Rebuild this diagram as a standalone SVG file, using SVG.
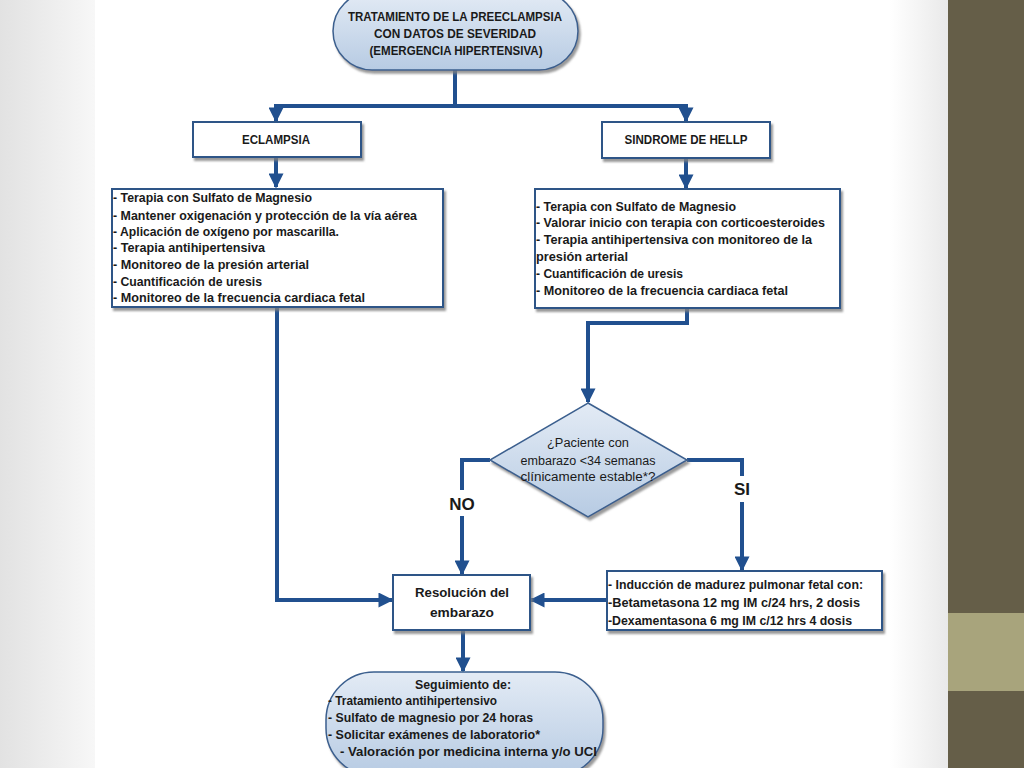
<svg xmlns="http://www.w3.org/2000/svg" width="1024" height="768" viewBox="0 0 1024 768">
<defs>
<linearGradient id="pill" x1="0" y1="0" x2="0" y2="1"><stop offset="0" stop-color="#e3ebf5"/><stop offset="1" stop-color="#b7cbe3"/></linearGradient>
<linearGradient id="lm" x1="0" y1="0" x2="1" y2="0"><stop offset="0" stop-color="#e2e2e2"/><stop offset="1" stop-color="#f7f7f7"/></linearGradient>
<linearGradient id="rm" x1="0" y1="0" x2="1" y2="0"><stop offset="0" stop-color="#ffffff"/><stop offset="1" stop-color="#e9e9e9"/></linearGradient>
<filter id="sh" x="-10%" y="-10%" width="130%" height="140%"><feDropShadow dx="2" dy="3" stdDeviation="1" flood-color="#808080" flood-opacity="0.8"/></filter>
<marker id="ah" viewBox="0 0 10 10" refX="9" refY="5" markerWidth="16" markerHeight="15" markerUnits="userSpaceOnUse" orient="auto"><path d="M0,0 L10,5 L0,10 z" fill="#21508f"/></marker>
</defs>
<style>
.box{fill:#ffffff;stroke:#2f5587;stroke-width:2;filter:url(#sh)}
.pil{fill:url(#pill);stroke:#3b5f8e;stroke-width:1.5;filter:url(#sh)}
.t{font-family:"Liberation Sans",Arial,sans-serif;font-weight:bold;font-size:12.5px;fill:#1a1a1a}
.c{text-anchor:middle}
.nw{font-weight:normal}
.lbl{font-family:"Liberation Sans",Arial,sans-serif;font-weight:bold;font-size:17px;fill:#1a1a1a;text-anchor:middle}
.ln{fill:none;stroke:#21508f;stroke-width:4}
.ar{fill:none;stroke:#21508f;stroke-width:4;marker-end:url(#ah)}
</style>
<rect x="0" y="0" width="1024" height="768" fill="#ffffff"/>
<rect x="0" y="0" width="95" height="768" fill="url(#lm)"/>
<rect x="890" y="0" width="58" height="768" fill="url(#rm)"/>
<rect x="948" y="0" width="76" height="768" fill="#655e48"/>
<rect x="948" y="613" width="76" height="78" fill="#a8a47c"/>

<g id="connectors">
<path class="ln" d="M455,70 V106"/>
<path class="ln" d="M274,106 H688"/>
<path class="ar" d="M276,104 V121"/>
<path class="ar" d="M686,104 V121"/>
<path class="ar" d="M276,158 V187"/>
<path class="ar" d="M686,158 V188"/>
<path class="ar" d="M277,307 V600 H392"/>
<path class="ar" d="M687,308 V323 H588 V402"/>
<path class="ar" d="M490,460 H462 V574"/>
<path class="ar" d="M687,460 H742 V570"/>
<path class="ar" d="M607,600 H531"/>
<path class="ar" d="M463,630 V671"/>
<path class="ln" d="M463,762 V768"/>
<rect x="442" y="490" width="40" height="26" fill="#ffffff"/>
<text class="lbl" x="462" y="510">NO</text>
<rect x="728" y="476" width="28" height="26" fill="#ffffff"/>
<text class="lbl" x="742" y="495">SI</text>
</g>

<g id="n-title">
<rect class="pil" x="333" y="-8" width="245" height="78" rx="39"/>
<text class="t c" x="455" y="21" textLength="214" lengthAdjust="spacingAndGlyphs">TRATAMIENTO DE LA PREECLAMPSIA</text>
<text class="t c" x="455" y="38" textLength="162" lengthAdjust="spacingAndGlyphs">CON DATOS DE SEVERIDAD</text>
<text class="t c" x="456" y="55" textLength="173" lengthAdjust="spacingAndGlyphs">(EMERGENCIA HIPERTENSIVA)</text>
</g>

<g id="n-eclampsia">
<rect class="box" x="193" y="122" width="168" height="35"/>
<text class="t c" x="276" y="144" textLength="68" lengthAdjust="spacingAndGlyphs">ECLAMPSIA</text>
</g>

<g id="n-hellp">
<rect class="box" x="602" y="122" width="168" height="36"/>
<text class="t c" x="686" y="144" textLength="123" lengthAdjust="spacingAndGlyphs">SINDROME DE HELLP</text>
</g>

<g id="n-eclampsia-tx">
<rect class="box" x="112" y="189" width="331" height="118"/>
<text class="t" x="113" y="202" textLength="199" lengthAdjust="spacingAndGlyphs">- Terapia con Sulfato de Magnesio</text>
<text class="t" x="113" y="220" textLength="304" lengthAdjust="spacingAndGlyphs">- Mantener oxigenación y protección de la vía aérea</text>
<text class="t" x="113" y="236" textLength="226" lengthAdjust="spacingAndGlyphs">- Aplicación de oxígeno por mascarilla.</text>
<text class="t" x="113" y="252" textLength="152" lengthAdjust="spacingAndGlyphs">- Terapia antihipertensiva</text>
<text class="t" x="113" y="269" textLength="196" lengthAdjust="spacingAndGlyphs">- Monitoreo de la presión arterial</text>
<text class="t" x="113" y="286" textLength="149" lengthAdjust="spacingAndGlyphs">- Cuantificación de uresis</text>
<text class="t" x="113" y="302" textLength="252" lengthAdjust="spacingAndGlyphs">- Monitoreo  de la frecuencia cardiaca fetal</text>
</g>

<g id="n-hellp-tx">
<rect class="box" x="535" y="189" width="305" height="119"/>
<text class="t" x="536" y="211" textLength="200" lengthAdjust="spacingAndGlyphs">- Terapia con Sulfato de Magnesio</text>
<text class="t" x="536" y="227" textLength="289" lengthAdjust="spacingAndGlyphs">- Valorar inicio con terapia  con corticoesteroides</text>
<text class="t" x="536" y="244" textLength="276" lengthAdjust="spacingAndGlyphs">- Terapia antihipertensiva  con monitoreo de la</text>
<text class="t" x="536" y="261" textLength="92" lengthAdjust="spacingAndGlyphs">presión arterial</text>
<text class="t" x="536" y="278" textLength="147" lengthAdjust="spacingAndGlyphs">- Cuantificación de uresis</text>
<text class="t" x="536" y="295" textLength="252" lengthAdjust="spacingAndGlyphs">- Monitoreo  de la frecuencia cardiaca fetal</text>
</g>

<g id="n-decision">
<polygon class="pil" points="588,403 687,460 588,517 490,460"/>
<text class="t c nw" x="588" y="447" textLength="82" lengthAdjust="spacingAndGlyphs">¿Paciente con</text>
<text class="t c nw" x="588" y="465" textLength="135" lengthAdjust="spacingAndGlyphs">embarazo &lt;34 semanas</text>
<text class="t c nw" x="588" y="481" textLength="135" lengthAdjust="spacingAndGlyphs">clínicamente estable*?</text>
</g>

<g id="n-resolucion">
<rect class="box" x="393" y="575" width="137" height="55"/>
<text class="t c" x="462" y="597" textLength="94" lengthAdjust="spacingAndGlyphs">Resolución del</text>
<text class="t c" x="462" y="617" textLength="64" lengthAdjust="spacingAndGlyphs">embarazo</text>
</g>

<g id="n-induccion">
<rect class="box" x="607" y="571" width="275" height="59"/>
<text class="t" x="608" y="589" textLength="255" lengthAdjust="spacingAndGlyphs">- Inducción de madurez pulmonar fetal con:</text>
<text class="t" x="608" y="607" textLength="252" lengthAdjust="spacingAndGlyphs">-Betametasona 12 mg IM c/24 hrs, 2 dosis</text>
<text class="t" x="608" y="625" textLength="244" lengthAdjust="spacingAndGlyphs">-Dexamentasona 6 mg IM c/12 hrs 4 dosis</text>
</g>

<g id="n-seguimiento">
<rect class="pil" x="326" y="672" width="277" height="104" rx="48"/>
<text class="t c" x="463" y="689" textLength="96" lengthAdjust="spacingAndGlyphs">Seguimiento de:</text>
<text class="t" x="328" y="705" textLength="169" lengthAdjust="spacingAndGlyphs">- Tratamiento antihipertensivo</text>
<text class="t" x="328" y="722" textLength="205" lengthAdjust="spacingAndGlyphs">- Sulfato de magnesio por 24 horas</text>
<text class="t" x="328" y="739" textLength="212" lengthAdjust="spacingAndGlyphs">- Solicitar exámenes de laboratorio*</text>
<text class="t" x="340" y="756" textLength="257" lengthAdjust="spacingAndGlyphs">- Valoración por medicina interna y/o UCI</text>
</g>
</svg>
